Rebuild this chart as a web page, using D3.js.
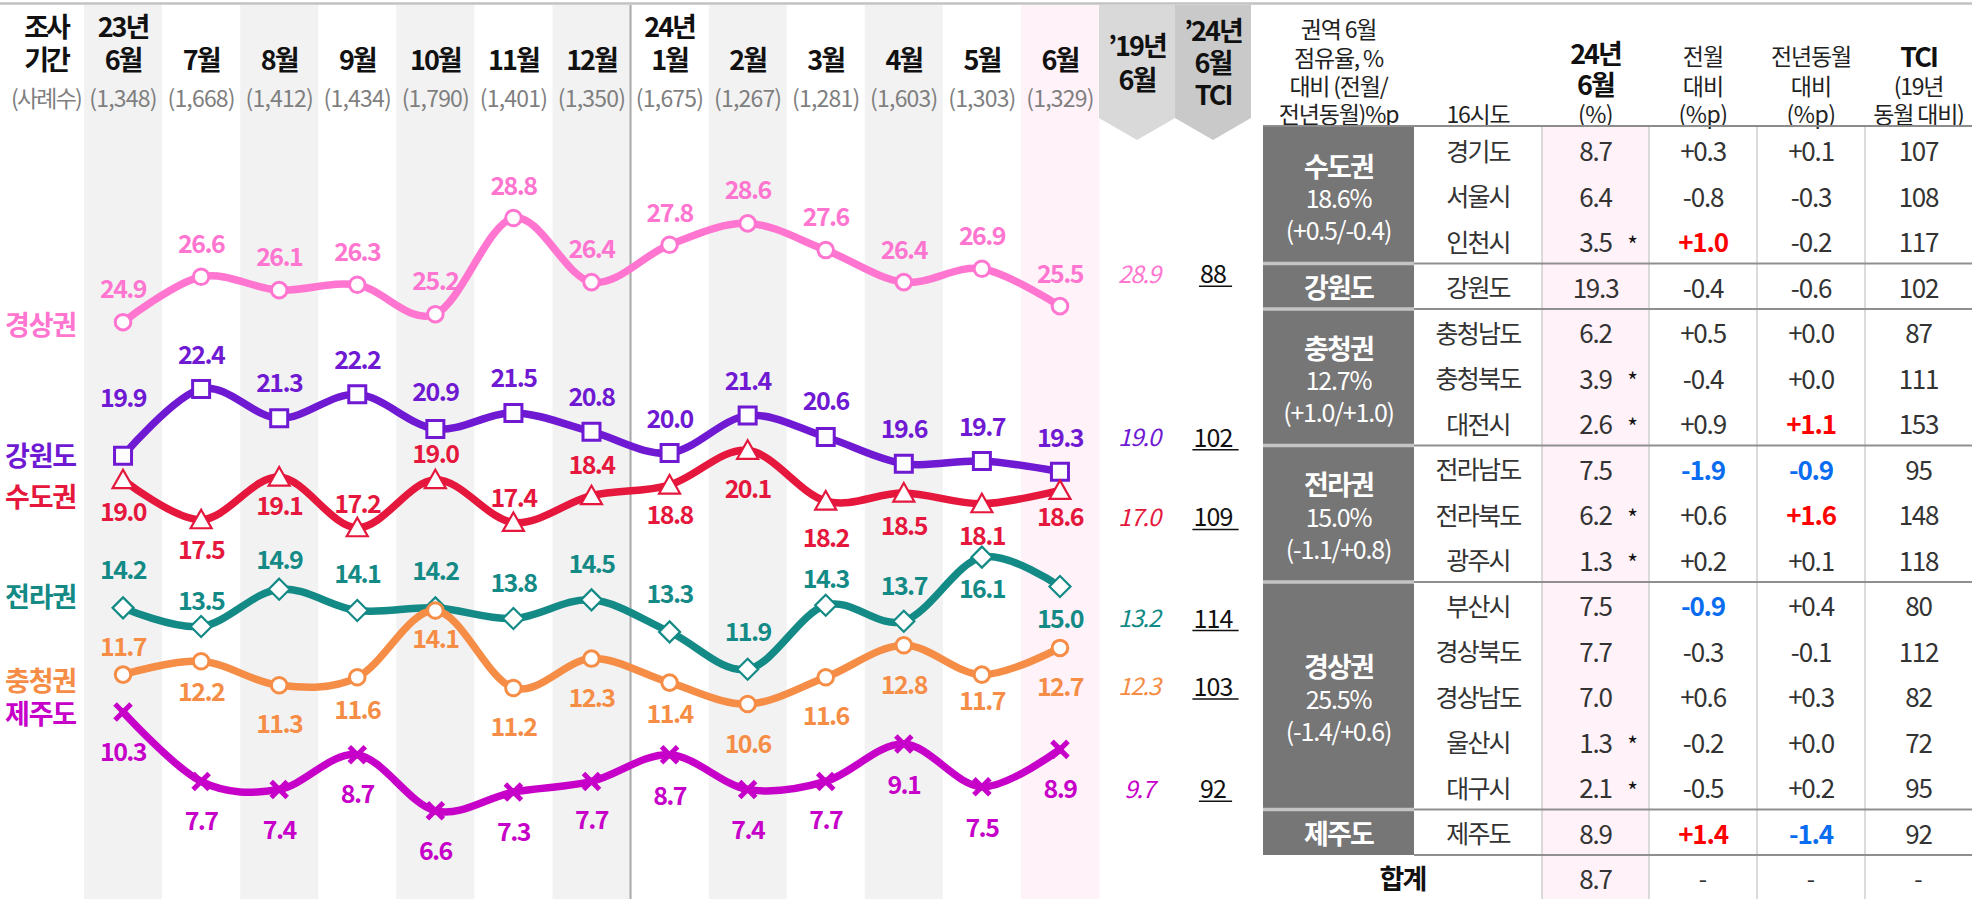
<!DOCTYPE html>
<html>
<head>
<meta charset="utf-8">
<script src="https://cdn.jsdelivr.net/npm/d3@7"></script>
<style>
body { margin: 0; background: #fff; }
svg text { font-family: "Noto Sans CJK KR", "Noto Sans", sans-serif; }
</style>
</head>
<body>
<svg id="chart"></svg>
<script>
// survey months (23년 6월 ~ 24년 6월) and sample counts
var months = ["6월","7월","8월","9월","10월","11월","12월","1월","2월","3월","4월","5월","6월"];
var yearTags = ["23년","","","","","","","24년","","","","",""];
var samples = [1348,1668,1412,1434,1790,1401,1350,1675,1267,1281,1603,1303,1329];

// regional share (%) per month
var seriesNames = ["경상권","강원도","수도권","전라권","충청권","제주도"];
var gyeongsang  = [24.9,26.6,26.1,26.3,25.2,28.8,26.4,27.8,28.6,27.6,26.4,26.9,25.5];
var gangwon     = [19.9,22.4,21.3,22.2,20.9,21.5,20.8,20.0,21.4,20.6,19.6,19.7,19.3];
var sudo        = [19.0,17.5,19.1,17.2,19.0,17.4,18.4,18.8,20.1,18.2,18.5,18.1,18.6];
var jeolla      = [14.2,13.5,14.9,14.1,14.2,13.8,14.5,13.3,11.9,14.3,13.7,16.1,15.0];
var chungcheong = [11.7,12.2,11.3,11.6,14.1,11.2,12.3,11.4,10.6,11.6,12.8,11.7,12.7];
var jeju        = [10.3,7.7,7.4,8.7,6.6,7.3,7.7,8.7,7.4,7.7,9.1,7.5,8.9];
var share2019 = [28.9,19.0,17.0,13.2,12.3,9.7];
var tci2024 = [88,102,109,114,103,92];

// table data
var regions = ["수도권","강원도","충청권","전라권","경상권","제주도"];
var regionSizes = [3,1,3,3,5,1];
var regionShare = [18.6,19.3,12.7,15.0,25.5,8.9];
var regionMom = [0.5,null,1.0,-1.1,-1.4,null];
var regionYoy = [-0.4,null,1.0,0.8,0.6,null];
var provinces = ["경기도","서울시","인천시","강원도","충청남도","충청북도","대전시","전라남도","전라북도","광주시","부산시","경상북도","경상남도","울산시","대구시","제주도"];
var provShare = [8.7,6.4,3.5,19.3,6.2,3.9,2.6,7.5,6.2,1.3,7.5,7.7,7.0,1.3,2.1,8.9];
var smallSample = [0,0,1,0,0,1,1,0,1,1,0,0,0,1,1,0];
var provMom = [0.3,-0.8,1.0,-0.4,0.5,-0.4,0.9,-1.9,0.6,0.2,-0.9,-0.3,0.6,-0.2,-0.5,1.4];
var provYoy = [0.1,-0.3,-0.2,-0.6,0.0,0.0,1.1,-0.9,1.6,0.1,0.4,-0.1,0.3,0.0,0.2,-1.4];
var provTci = [107,108,117,102,87,111,153,95,148,118,80,112,82,72,95,92];
var totalShare = 8.7;

// label placement (px from marker), layout only
var labelDy = [
  [-35,-35,-35,-35,-35,-34,-35,-34,-35,-35,-34,-35,-34],
  [-60,-36,-37,-36,-39,-37,-37,-36,-37,-38,-37,-36,-36],
  [30,28,27,-26,-28,-26,-33,28,37,35,31,30,25],
  [-40,-28,-31,-39,-39,-38,-38,-40,-39,-28,-37,30,30],
  [-30,29,37,31,26,37,37,29,38,37,38,24,37],
  [38,38,39,37,38,38,37,39,39,37,39,39,38]
];
var nameDy = [1,-1,16,-12,5,1];

var W = 1981, H = 899;
var svg = d3.select("#chart").attr("width", W).attr("height", H);

var x = d3.scaleBand().domain(d3.range(months.length)).range([84, 1099]);
var y = d3.scaleLinear().domain([0, 30]).range([987, 186]);
var cx = function(i){ return x(i) + x.bandwidth() / 2; };

var seriesData = [gyeongsang, gangwon, sudo, jeolla, chungcheong, jeju];
var colors = ["#ff75d0","#6f19d3","#e5173c","#138a86","#f68d46","#c600c8"];
var markers = ["circle","square","triangle","diamond","circle","x"];

// column backgrounds
svg.selectAll("rect.col").data(months).enter().append("rect")
  .attr("x", function(d,i){ return x(i); })
  .attr("y", 5)
  .attr("width", x.bandwidth() + 0.5)
  .attr("height", H - 5)
  .attr("fill", function(d,i){ return i === months.length - 1 ? "#fff2f9" : (i % 2 === 0 ? "#f2f2f2" : "#ffffff"); });

// year divider
svg.append("line").attr("x1", x(7)).attr("x2", x(7)).attr("y1", 5).attr("y2", H)
  .attr("stroke", "#a8a8a8").attr("stroke-width", 2);

// '19 / TCI header chevrons
var x19 = x.range()[1], xT = x19 + 76, xEnd = xT + 76;
function chevron(x0, x1){
  var m = (x0 + x1) / 2;
  return "M" + x0 + ",5H" + x1 + "V118L" + m + ",140L" + x0 + ",118Z";
}
svg.append("path").attr("d", chevron(x19, xT)).attr("fill", "#d9d9d9");
svg.append("path").attr("d", chevron(xT, xEnd)).attr("fill", "#c9c9c9");

function txt(g, s, px, py, size, weight, fill, extra){
  var t = g.append("text").text(s).attr("x", px).attr("y", py)
    .attr("text-anchor", "middle").attr("dominant-baseline", "central")
    .style("font-size", size + "px").style("font-weight", weight).attr("fill", fill);
  if (extra) t.style("letter-spacing", extra + "px");
  return t;
}

// chart header
var head = svg.append("g");
txt(head, "조사", 46, 25, 27, 700, "#111", -3);
txt(head, "기간", 46, 58, 27, 700, "#111", -3);
txt(head, "(사례수)", 46, 97, 23, 400, "#7f7f7f", -1.8);
months.forEach(function(m, i){
  if (yearTags[i]) txt(head, yearTags[i], cx(i), 25, 27, 700, "#111", -2);
  txt(head, m, cx(i), 58, 27, 700, "#111", -2);
  txt(head, "(" + d3.format(",")(samples[i]) + ")", cx(i), 97, 23, 400, "#7f7f7f", -0.8);
});
txt(head, "\u201919년", (x19 + xT) / 2, 44, 27, 700, "#111", -2);
txt(head, "6월", (x19 + xT) / 2, 78, 27, 700, "#111", -2);
txt(head, "\u201924년", (xT + xEnd) / 2, 29, 27, 700, "#111", -2);
txt(head, "6월", (xT + xEnd) / 2, 61, 27, 700, "#111", -2);
txt(head, "TCI", (xT + xEnd) / 2, 93, 27, 700, "#111", -2);

// lines and markers
function markerPath(type){
  if (type === "circle") return d3.symbol(d3.symbolCircle, 190)();
  if (type === "square") return "M-8.5,-8.5H8.5V8.5H-8.5Z";
  if (type === "triangle") return "M0,-10L10.5,8.5H-10.5Z";
  if (type === "diamond") return "M0,-10.5L10.5,0L0,10.5L-10.5,0Z";
  return "M-8,-8L8,8M8,-8L-8,8";
}
var line = d3.line()
  .x(function(d,i){ return cx(i); })
  .y(function(d){ return y(d); })
  .curve(d3.curveCatmullRom.alpha(0));

seriesData.forEach(function(vals, s){
  var g = svg.append("g");
  g.append("path").attr("d", line(vals)).attr("fill", "none")
    .attr("stroke", colors[s]).attr("stroke-width", 7.5).attr("stroke-linecap", "round");
  var isX = markers[s] === "x";
  g.selectAll("path.mk").data(vals).enter().append("path")
    .attr("d", markerPath(markers[s]))
    .attr("transform", function(d,i){ return "translate(" + cx(i) + "," + y(d) + ")"; })
    .attr("fill", isX ? "none" : "#fdfdfd")
    .attr("stroke", colors[s])
    .attr("stroke-width", isX ? 5 : (markers[s] === "circle" || markers[s] === "square" ? 3 : 2.2));
});

// value labels, series names, '19 values, TCI
var labels = svg.append("g");
seriesData.forEach(function(vals, s){
  vals.forEach(function(v, i){
    txt(labels, v.toFixed(1), cx(i), y(v) + labelDy[s][i], 25, 700, colors[s], -1.6);
  });
  labels.append("text").text(seriesNames[s]).attr("x", 5).attr("y", y(vals[0]) + nameDy[s])
    .attr("dominant-baseline", "central").style("font-size", "27px").style("font-weight", 700)
    .style("letter-spacing", "-1.2px").attr("fill", colors[s]);
  var last = vals.length - 1;
  var ly = y(vals[last]) + labelDy[s][last];
  txt(labels, share2019[s].toFixed(1), (x19 + xT) / 2 + 2, ly, 24, 400, colors[s], -1.2)
    .style("font-style", "italic");
  var tt = txt(labels, String(tci2024[s]), (xT + xEnd) / 2, ly, 25, 400, "#111", -0.8);
  var w = tt.node().getComputedTextLength();
  labels.append("line").attr("x1", (xT + xEnd) / 2 - w / 2 - 1).attr("x2", (xT + xEnd) / 2 + w / 2 + 6)
    .attr("y1", ly + 14).attr("y2", ly + 14).attr("stroke", "#111").attr("stroke-width", 1.5);
});

// ---------- table ----------
var tc = [1263, 1414, 1542, 1649, 1757, 1865, 1972];
var tTop = 127, rowH = 45.5;
var rowY = function(r){ return tTop + r * rowH; };
var mid = function(c){ return (tc[c] + tc[c + 1]) / 2; };
var table = svg.append("g");

table.append("rect").attr("x", tc[2]).attr("y", tTop).attr("width", tc[3] - tc[2])
  .attr("height", H - tTop).attr("fill", "#fff2f9");

// header
var hc = "#222";
[["권역 6월",28],["점유율, %",57],["대비 (전월/",85],["전년동월)%p",113]].forEach(function(d){
  txt(table, d[0], mid(0), d[1], 23, 400, hc, -1.2);
});
txt(table, "16시도", mid(1), 113, 23, 400, hc, -1.2);
txt(table, "24년", mid(2), 52, 27, 700, "#111", -2);
txt(table, "6월", mid(2), 83, 27, 700, "#111", -2);
txt(table, "(%)", mid(2), 113, 23, 400, hc, -0.5);
txt(table, "전월", mid(3), 55, 23, 400, hc, -1);
txt(table, "대비", mid(3), 85, 23, 400, hc, -1);
txt(table, "(%p)", mid(3), 113, 23, 400, hc, -0.5);
txt(table, "전년동월", mid(4), 55, 23, 400, hc, -1.2);
txt(table, "대비", mid(4), 85, 23, 400, hc, -1);
txt(table, "(%p)", mid(4), 113, 23, 400, hc, -0.5);
txt(table, "TCI", mid(5), 55, 27, 700, "#111", -2);
txt(table, "(19년", mid(5), 85, 23, 400, hc, -1.2);
txt(table, "동월 대비)", mid(5), 113, 23, 400, hc, -1.2);

// region blocks
var fmtSign = function(v){ return (v < 0 ? "-" : "+") + Math.abs(v).toFixed(1); };
var start = 0;
var breaks = [];
regions.forEach(function(r, k){
  var y0 = rowY(start), y1 = rowY(start + regionSizes[k]);
  table.append("rect").attr("x", tc[0]).attr("y", y0).attr("width", tc[1] - tc[0])
    .attr("height", y1 - y0).attr("fill", "#767676");
  var yc = (y0 + y1) / 2 + 2;
  if (regionMom[k] === null) {
    txt(table, r, mid(0), yc - 2, 27, 700, "#fff", -1.8);
  } else {
    txt(table, r, mid(0), yc - 32, 27, 700, "#fff", -1.8);
    txt(table, regionShare[k].toFixed(1) + "%", mid(0), yc, 25, 400, "#fff", -1.2);
    txt(table, "(" + fmtSign(regionMom[k]) + "/" + fmtSign(regionYoy[k]) + ")", mid(0), yc + 32, 25, 400, "#fff", -1.2);
  }
  start += regionSizes[k];
  breaks.push(start);
});

// province rows
var bodyC = "#333";
function diffText(v, c, r){
  var col = v >= 1.0 ? "#ff0000" : (v <= -0.9 ? "#0a6cf0" : bodyC);
  var wt = col === bodyC ? 400 : 700;
  txt(table, fmtSign(v), mid(c), rowY(r) + rowH / 2, 26, wt, col, -1.2);
}
provinces.forEach(function(p, r){
  var yc = rowY(r) + rowH / 2;
  txt(table, p, mid(1), yc, 25, 400, bodyC, -1.8);
  txt(table, provShare[r].toFixed(1), mid(2), yc, 26, 400, bodyC, -1.2);
  if (smallSample[r]) txt(table, "*", mid(2) + 37, yc + 3, 23, 400, "#111");
  diffText(provMom[r], 3, r);
  diffText(provYoy[r], 4, r);
  txt(table, String(provTci[r]), mid(5), yc, 26, 400, bodyC, -1.2);
});

// total row
var ty = rowY(16) + rowH / 2;
txt(table, "합계", (tc[0] + tc[2]) / 2, ty, 27, 700, "#111", -1.8);
txt(table, totalShare.toFixed(1), mid(2), ty, 26, 400, bodyC, -1.2);
[3,4,5].forEach(function(c){ txt(table, "-", mid(c), ty, 24, 400, bodyC); });

// grid lines
[2,3,4,5].forEach(function(c){
  table.append("line").attr("x1", tc[c]).attr("x2", tc[c]).attr("y1", tTop).attr("y2", H)
    .attr("stroke", "#cfcfcf").attr("stroke-width", 1.5);
});
breaks.forEach(function(b){
  var by = rowY(b);
  table.append("line").attr("x1", tc[1]).attr("x2", tc[6]).attr("y1", by).attr("y2", by)
    .attr("stroke", "#8f8f8f").attr("stroke-width", 2);
  if (b < 16) table.append("line").attr("x1", tc[0]).attr("x2", tc[1]).attr("y1", by).attr("y2", by)
    .attr("stroke", "#c4c4c4").attr("stroke-width", 3.5);
});
table.append("line").attr("x1", tc[0]).attr("x2", tc[6]).attr("y1", tTop - 1).attr("y2", tTop - 1)
  .attr("stroke", "#8c8c8c").attr("stroke-width", 2);

// top rule
svg.append("line").attr("x1", 0).attr("x2", tc[6]).attr("y1", 3.5).attr("y2", 3.5)
  .attr("stroke", "#c2c2c2").attr("stroke-width", 2.5);
</script>
</body>
</html>
